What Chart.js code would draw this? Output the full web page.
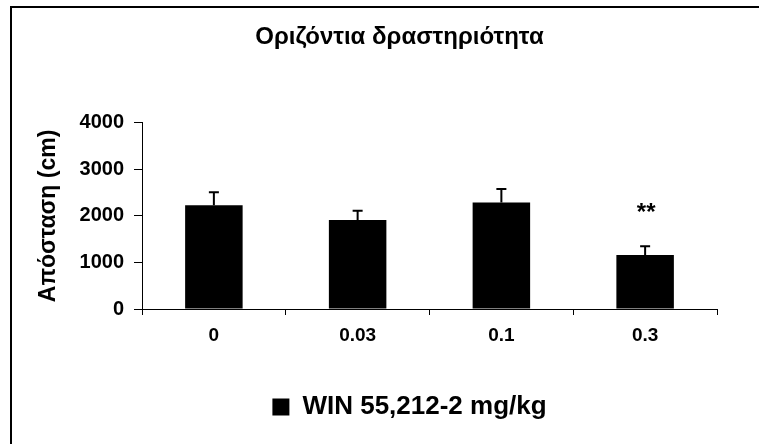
<!DOCTYPE html>
<html>
<head>
<meta charset="utf-8">
<script src="https://cdn.jsdelivr.net/npm/chart.js@4/dist/chart.umd.min.js"></script>
<style>
    html, body { margin: 0; padding: 0; background: #fff; }
    #wrap { position: relative; width: 759px; height: 444px; }
    #frame {
        position: absolute; left: 10px; top: 6px; right: 0; bottom: 0;
        border-top: 2px solid #000; border-left: 2px solid #000;
        pointer-events: none;
    }
</style>
</head>
<body>
<div id="wrap">
    <canvas id="activityChart" width="759" height="444"></canvas>
    <div id="frame"></div>
</div>
<script>
// Data
const categories = ['0', '0.03', '0.1', '0.3'];
const means = [2230, 1910, 2290, 1160];
const errors = [280, 200, 290, 190];
const marks = ['', '', '', '**'];
const yTicks = [0, 1000, 2000, 3000, 4000];

const FONT = "'Liberation Sans', Arial, sans-serif";

// Upper-only error bars plus significance marks
const errorBarPlugin = {
    id: 'errorBars',
    afterDatasetsDraw(chart) {
        const ctx = chart.ctx;
        const meta = chart.getDatasetMeta(0);
        const y = chart.scales.y;
        ctx.save();
        ctx.strokeStyle = '#000';
        ctx.lineWidth = 2;
        meta.data.forEach((bar, i) => {
            const top = y.getPixelForValue(means[i] + errors[i]);
            const base = y.getPixelForValue(means[i]);
            ctx.beginPath();
            ctx.moveTo(bar.x, base);
            ctx.lineTo(bar.x, top);
            ctx.moveTo(bar.x - 5, top);
            ctx.lineTo(bar.x + 5, top);
            ctx.stroke();
            if (marks[i]) {
                ctx.fillStyle = '#000';
                ctx.font = 'bold 24px ' + FONT;
                ctx.textAlign = 'center';
                ctx.textBaseline = 'middle';
                ctx.fillText(marks[i], bar.x + 1, top - 33);
            }
        });
        ctx.restore();
    }
};

// Nudge title and legend to where they sit in the original
const shiftPlugin = {
    id: 'shiftBlocks',
    afterLayout(chart) {
        if (chart.titleBlock) {
            chart.titleBlock.left += 35;
            chart.titleBlock.right += 35;
        }
        if (chart.legend) {
            chart.legend.left += 45;
            chart.legend.right += 45;
        }
    }
};

const ctx = document.getElementById('activityChart');
new Chart(ctx, {
    type: 'bar',
    data: {
        labels: categories,
        datasets: [{
            label: 'WIN 55,212-2 mg/kg',
            data: means,
            backgroundColor: '#000',
            borderWidth: 0,
            barPercentage: 0.4,
            categoryPercentage: 1.0
        }]
    },
    options: {
        responsive: false,
        animation: false,
        devicePixelRatio: 1,
        layout: {
            padding: { left: 12, right: 42, top: 0, bottom: 14 }
        },
        plugins: {
            title: {
                display: true,
                text: 'Οριζόντια δραστηριότητα',
                color: '#000',
                font: { family: FONT, size: 24, weight: 'bold' },
                padding: { top: 23, bottom: 71 }
            },
            legend: {
                display: true,
                position: 'bottom',
                labels: {
                    color: '#000',
                    boxWidth: 17,
                    boxHeight: 17,
                    padding: 10,
                    font: { family: FONT, size: 26, weight: 'bold' }
                }
            },
            tooltip: { enabled: false }
        },
        scales: {
            x: {
                afterFit(scale) { scale.height = 75; },
                grid: {
                    drawOnChartArea: false,
                    drawTicks: true,
                    tickLength: 6,
                    color: '#000'
                },
                border: { display: true, color: '#000', width: 1 },
                ticks: {
                    color: '#000',
                    padding: 9,
                    font: { family: FONT, size: 19, weight: 'bold' }
                }
            },
            y: {
                min: 0,
                max: 4000,
                afterFit(scale) { scale.width = 130; },
                afterBuildTicks(scale) {
                    scale.ticks = yTicks.map(v => ({ value: v }));
                },
                grid: {
                    drawOnChartArea: false,
                    drawTicks: true,
                    tickLength: 8,
                    color: '#000'
                },
                border: { display: true, color: '#000', width: 1 },
                ticks: {
                    color: '#000',
                    padding: 10,
                    font: { family: FONT, size: 20, weight: 'bold' },
                    callback: function(value) {
                        return String(value);
                    }
                },
                title: {
                    display: true,
                    text: 'Απόσταση (cm)',
                    color: '#000',
                    padding: { top: 23, bottom: 0 },
                    font: { family: FONT, size: 23, weight: 'bold' }
                }
            }
        }
    },
    plugins: [errorBarPlugin, shiftPlugin]
});
</script>
</body>
</html>
